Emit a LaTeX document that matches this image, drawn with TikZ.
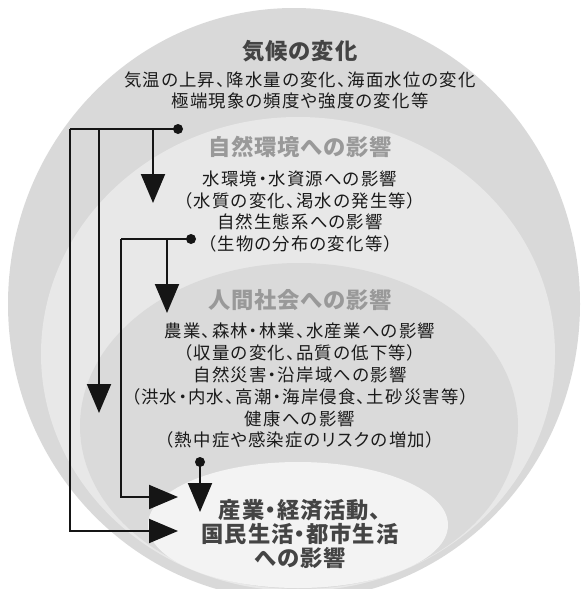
\documentclass[tikz,border=0pt]{standalone}
\usepackage{fontspec}
\newfontfamily\jpfont{Noto Sans CJK JP}[LetterSpace=7,RawFeature=+palt]
\newfontfamily\jphead{Noto Sans CJK JP}[LetterSpace=4,RawFeature=+palt]
\usetikzlibrary{arrows.meta}

\definecolor{climatebg}{HTML}{D9D9D9}
\definecolor{naturebg}{HTML}{E8E8E8}
\definecolor{societybg}{HTML}{DADADA}
\definecolor{lifebg}{HTML}{F3F3F3}
\definecolor{headdark}{HTML}{444444}
\definecolor{headlight}{HTML}{999999}
\definecolor{bodytext}{HTML}{1A1A1A}
\definecolor{linkcol}{HTML}{151515}

\begin{document}
\begin{tikzpicture}[x=1pt,y=-1pt,
    head/.style={font=\jphead\bfseries\fontsize{22.3}{24}\selectfont, align=center},
    body/.style={font=\jpfont\fontsize{17.4}{21.8}\selectfont, align=center, text=bodytext},
    dot/.style={circle, fill=linkcol, inner sep=0pt, minimum size=10pt},
    wire/.style={line width=2pt, draw=linkcol},
    link/.style={wire, -{Triangle[width=24pt,length=29pt]}}]
  \useasboundingbox (0,0) rectangle (587,589);
  % nested circles
  \begin{scope}
    \clip (0,0) rectangle (587,589);
    \fill[climatebg] (294,304) ellipse (286 and 296);
    \fill[naturebg] (298,354) ellipse (257 and 237);
    \fill[societybg] (299,426) ellipse (219 and 163);
    \fill[lifebg] (298,525) ellipse (150 and 63);
  \end{scope}

  % texts
  \node[head, text=headdark] (climate) at (300,51) {気候の変化};
  \node[body] (climatetxt) at (300,90.5)
    {気温の上昇、降水量の変化、海面水位の変化\\極端現象の頻度や強度の変化等};
  \node[head, text=headlight] (nature) at (300,147) {自然環境への影響};
  \node[body] (naturetxt) at (300,211.5)
    {水環境・水資源への影響\\（水質の変化、渇水の発生等）\\自然生態系への影響\\（生物の分布の変化等）};
  \node[head, text=headlight] (society) at (300,300) {人間社会への影響};
  \node[body] (societytxt) at (300,386)
    {農業、森林・林業、水産業への影響\\（収量の変化、品質の低下等）\\自然災害・沿岸域への影響\\（洪水・内水、高潮・海岸侵食、土砂災害等）\\健康への影響\\（熱中症や感染症のリスクの増加）};
  \node[head, text=headdark] (life) at (300,534)
    {産業・経済活動、\\国民生活・都市生活\\への影響};

  % from climate
  \node[dot] (d1) at (178,129) {};
  \coordinate (j1) at (153,129);
  \coordinate (j2) at (99,129);
  \coordinate (j3) at (70,129);
  \coordinate (t1) at (153,203);
  \coordinate (t2) at (99,413);
  \coordinate (t3) at (178,531);
  \draw[wire] (d1.center) -- (j3);
  \draw[link] (j1) -- (t1);
  \draw[link] (j2) -- (t2);
  \draw[link] (j3) |- (t3);

  % from nature
  \node[dot] (d2) at (191,239) {};
  \coordinate (k1) at (167,239);
  \coordinate (k2) at (121,239);
  \coordinate (u1) at (167,313);
  \coordinate (u2) at (178,497);
  \draw[wire] (d2.center) -- (k2);
  \draw[link] (k1) -- (u1);
  \draw[link] (k2) |- (u2);

  % from society
  \node[dot] (d3) at (200,462) {};
  \coordinate (v1) at (200,512);
  \draw[link] (d3.center) -- (v1);
\end{tikzpicture}
\end{document}
